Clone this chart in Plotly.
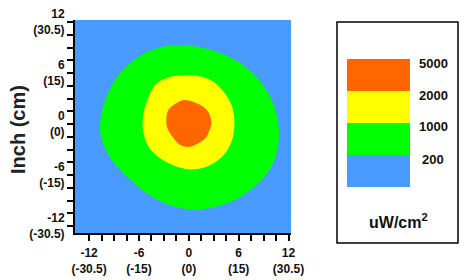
import plotly.graph_objects as go

# ---- data (inch units) ----
levels = [200, 1000, 2000, 5000]
level_colors = ["#4a9bff", "#00ff00", "#ffff00", "#ff6600"]
tick_inch = [-12, -6, 0, 6, 12]
tick_cm = ["-30.5", "-15", "0", "15", "30.5"]
minor_step = 1.5

green_x = [-1.02, 3.0, 6.21, 8.63, 10.23, 10.84, 10.56, 9.43, 7.42, 4.61, 1.39, -1.42,
           -4.44, -7.05, -9.26, -10.47, -10.67, -10.07, -8.46, -6.05, -3.44]
green_y = [9.29, 8.63, 7.14, 4.98, 2.24, -0.71, -3.45, -5.8, -7.76, -9.33, -10.04, -9.8,
           -8.55, -6.59, -4.24, -1.88, 0.08, 2.82, 5.76, 7.92, 9.02]

yellow_x = [-4.04, -2.43, 0.18, 2.6, 4.2, 5.21, 5.49, 5.21, 4.2, 2.6, 0.58, -1.42,
            -3.44, -4.85, -5.52, -5.45, -4.85]
yellow_y = [4.59, 5.49, 5.76, 5.18, 3.8, 2.04, 0.08, -1.88, -3.65, -4.82, -5.33, -5.02,
            -4.04, -2.67, -0.71, 1.26, 3.14]

orange_x = [-0.62, 1.39, 2.35, 2.72, 2.35, 1.99, 0.18, -1.02, -1.83, -2.59, -2.71, -2.47, -1.83]
orange_y = [2.82, 2.24, 1.41, 0.08, -1.06, -1.68, -2.67, -2.47, -1.68, -0.47, 0.47, 1.65, 2.24]

# ---- layout geometry ----
W, H = 470, 280
ML, MR, MT, MB = 75, 179, 20, 47
PW, PH = W - ML - MR, H - MT - MB
FONT = "Liberation Sans, Arial, sans-serif"


def pxx(x):
    return (x - ML) / PW


def pxy(y):
    return (H - MB - y) / PH


def closed(a):
    return list(a) + [a[0]]


fig = go.Figure()
for xs, ys, col in [(green_x, green_y, level_colors[1]),
                    (yellow_x, yellow_y, level_colors[2]),
                    (orange_x, orange_y, level_colors[3])]:
    fig.add_trace(go.Scatter(x=closed(xs), y=closed(ys), mode="lines",
                             line=dict(color=col, width=0, shape="spline", smoothing=1.0),
                             fill="toself", fillcolor=col, hoverinfo="skip",
                             showlegend=False))

n_minor = int(round((tick_inch[-1] - tick_inch[0]) / minor_step))
minor_vals = [tick_inch[0] + i * minor_step for i in range(n_minor + 1)]
ticktext = [f"<b>{v}</b><br><b>({c})</b>" for v, c in zip(tick_inch, tick_cm)]

axis_common = dict(tickmode="array", tickvals=tick_inch, ticktext=ticktext,
                   ticks="outside", ticklen=6, tickwidth=1.5, tickcolor="black",
                   minor=dict(tickmode="array", tickvals=minor_vals, ticks="outside",
                              ticklen=6, tickwidth=1.5, tickcolor="black", showgrid=False),
                   showline=True, linewidth=2, linecolor="black", mirror=False,
                   showgrid=False, zeroline=False, fixedrange=True, automargin=False,
                   tickfont=dict(family=FONT, size=12, color="#111"))

fig.update_layout(
    width=W, height=H, autosize=False,
    margin=dict(l=ML, r=MR, t=MT, b=MB, pad=0, autoexpand=False),
    paper_bgcolor="white", plot_bgcolor=level_colors[0],
    xaxis=dict(range=[-13.7, 12.3], ticklabelstandoff=2, **axis_common),
    yaxis=dict(range=[-12.82, 12.24], **axis_common),
    showlegend=False,
)

shapes = [dict(type="rect", xref="paper", yref="paper",
               x0=pxx(337), x1=pxx(458), y0=pxy(243), y1=pxy(22),
               line=dict(color="black", width=1.5), fillcolor="rgba(0,0,0,0)")]
annotations = []
sw_top, sw_h = 59, 32
for i, (lev, col) in enumerate(zip(reversed(levels), reversed(level_colors))):
    top = sw_top + i * sw_h
    shapes.append(dict(type="rect", xref="paper", yref="paper",
                       x0=pxx(347), x1=pxx(410), y0=pxy(top + sw_h), y1=pxy(top),
                       line=dict(width=0), fillcolor=col))
    annotations.append(dict(xref="paper", yref="paper", x=pxx(433), y=pxy(top + 4),
                            text=f"<b>{lev}</b>", showarrow=False,
                            xanchor="center", yanchor="middle",
                            font=dict(family=FONT, size=13, color="#111")))
annotations.append(dict(xref="paper", yref="paper", x=pxx(398), y=pxy(221),
                        text="<b>uW/cm<sup>2</sup></b>", showarrow=False,
                        xanchor="center", yanchor="middle",
                        font=dict(family=FONT, size=16, color="#111")))
annotations.append(dict(xref="paper", yref="paper", x=pxx(18), y=pxy(130),
                        text="<b>Inch (cm)</b>", showarrow=False, textangle=-90,
                        xanchor="center", yanchor="middle",
                        font=dict(family=FONT, size=20, color="#222")))
fig.update_layout(shapes=shapes, annotations=annotations)

fig.write_html("out.html")
